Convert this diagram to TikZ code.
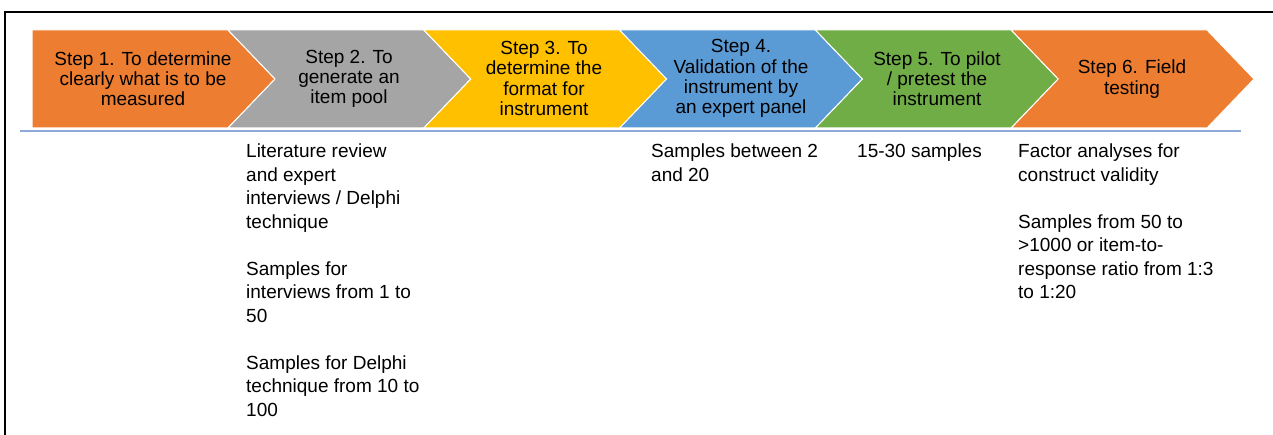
\documentclass[tikz,border=0pt]{standalone}
\usepackage{fontspec}
\setmainfont{Liberation Sans}
\definecolor{corange}{HTML}{ED7D31}
\definecolor{cgrey}{HTML}{A5A5A5}
\definecolor{cyellow}{HTML}{FFC000}
\definecolor{cblue}{HTML}{5B9BD5}
\definecolor{cgreen}{HTML}{70AD47}
\definecolor{lineblue}{HTML}{8EAADB}
\begin{document}
\begin{tikzpicture}[x=1pt,y=-1pt,
  chev/.style={draw=white, line width=1pt},
  steptext/.style={align=center, inner sep=0pt, font=\fontsize{19}{20.2}\selectfont},
  desc/.style={align=left, anchor=north west, inner sep=0pt, font=\fontsize{19}{23.5}\selectfont}]
\useasboundingbox (0,0) rectangle (1273,435);
% frame
\draw[line width=2pt] (5,435) -- (5,12) -- (1273,12);
% chevrons
\fill[corange, chev] (32,30) -- (228,30) -- (275,79) -- (228,128) -- (32,128) -- cycle;
\fill[cgrey, chev] (228,30) -- (423.8,30) -- (470.8,79) -- (423.8,128) -- (228,128) -- (275,79) -- cycle;
\fill[cyellow, chev] (423.8,30) -- (619.6,30) -- (666.6,79) -- (619.6,128) -- (423.8,128) -- (470.8,79) -- cycle;
\fill[cblue, chev] (619.6,30) -- (815.4,30) -- (862.4,79) -- (815.4,128) -- (619.6,128) -- (666.6,79) -- cycle;
\fill[cgreen, chev] (815.4,30) -- (1011.2,30) -- (1058.2,79) -- (1011.2,128) -- (815.4,128) -- (862.4,79) -- cycle;
\fill[corange, chev] (1011.2,30) -- (1207,30) -- (1254,79) -- (1207,128) -- (1011.2,128) -- (1058.2,79) -- cycle;
% step texts
\node[steptext] (s1) at (143,79) {Step 1. To determine\\clearly what is to be\\measured};
\node[steptext] (s2) at (349,79) {Step 2. To\\generate an\\item pool};
\node[steptext] (s3) at (544,78.5) {Step 3. To\\determine the\\format for\\instrument};
\node[steptext] (s4) at (741,78.5) {Step 4.\\Validation of the\\instrument by\\an expert panel};
\node[steptext] (s5) at (937,79) {Step 5. To pilot\\/ pretest the\\instrument};
\node[steptext] (s6) at (1132,79) {Step 6. Field\\testing};
% baseline
\draw[lineblue, line width=1.5pt] (20,131) -- (1241,131);
% descriptions
\node[desc] (d2) at (246,141) {\strut Literature review\\and expert\\interviews / Delphi\\technique\\[23.5pt]Samples for\\interviews from 1 to\\50\\[23.5pt]Samples for Delphi\\technique from 10 to\\100};
\node[desc] (d4) at (651,141) {\strut Samples between 2\\and 20};
\node[desc] (d5) at (857,141) {\strut 15-30 samples};
\node[desc] (d6) at (1018,141) {\strut Factor analyses for\\construct validity\\[23.5pt]Samples from 50 to\\>1000 or item-to-\\response ratio from 1:3\\to 1:20};
\end{tikzpicture}
\end{document}
